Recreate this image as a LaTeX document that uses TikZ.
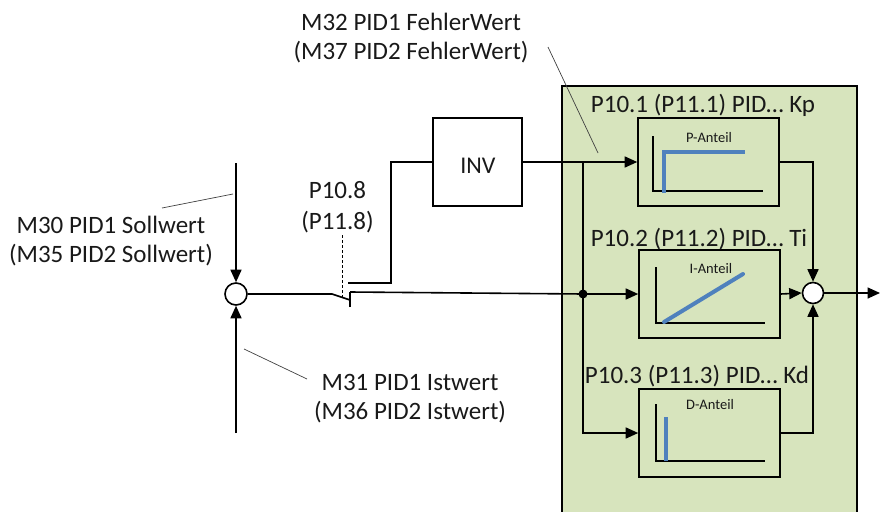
\documentclass[tikz,border=0pt]{standalone}
\usepackage{fontspec}
\setmainfont{Carlito}
\usetikzlibrary{arrows.meta}
\definecolor{pidgreen}{HTML}{D7E4BD}
\definecolor{pidblue}{HTML}{4F81BD}
\begin{document}
\begin{tikzpicture}[x=1pt,y=-1pt,
  ln/.style={line width=1.6pt},
  arr/.style={ln,-{Triangle[length=12.5pt,width=11pt]}},
  lead/.style={line width=0.7pt,draw=black!75},
  lbl/.style={font=\fontsize{25}{29}\selectfont,align=center,inner sep=0pt,text=black!90},
  blabel/.style={font=\fontsize{25}{29}\selectfont,inner sep=0pt,anchor=base,text=black!90},
  small/.style={font=\fontsize{14.5}{17}\selectfont,inner sep=0pt,anchor=base,text=black!90},
  blk/.style={draw,line width=1.6pt,minimum width=141pt,minimum height=88pt,inner sep=0pt},
  sumc/.style={circle,draw,line width=1.6pt,fill=white,inner sep=0pt},
  axis/.style={line width=1.4pt},
  curve/.style={line width=4pt,draw=pidblue}]
\useasboundingbox (0,0) rectangle (880,511);
% green PID area
\fill[pidgreen] (562,86) rectangle (857,515);
\draw[ln] (562,515) -- (562,86) -- (857,86) -- (857,515);

% blocks
\node[blk] (P) at (708.5,162) {};
\node[blk] (I) at (709.5,294) {};
\node[blk] (D) at (709.5,433) {};
\node[draw,line width=1.6pt,minimum width=89pt,minimum height=88pt,inner sep=0pt] (INV) at (477.5,162) {};
\node[blabel,font=\fontsize{24}{29}\selectfont] (INVt) at (478,173) {INV};

% block labels
\node[blabel] (Pl) at (703,112) {P10.1 (P11.1) PID… Kp};
\node[blabel] (Il) at (699,246) {P10.2 (P11.2) PID… Ti};
\node[blabel] (Dl) at (697,383) {P10.3 (P11.3) PID… Kd};

% inner plots
\node[small] (Pa) at (709,142) {P-Anteil};
\draw[axis] (653,136) -- (653,191) -- (763,191);
\draw[curve] (664,193) -- (664,152) -- (745,152);
\node[small] (Ia) at (711,273) {I-Anteil};
\draw[axis] (656,267) -- (656,323) -- (765,323);
\draw[curve,line cap=round] (664,322) -- (743,274);
\node[small] (Da) at (710,409) {D-Anteil};
\draw[axis] (656,404) -- (656,461) -- (765,461);
\draw[curve] (666,417) -- (666,461);

% summing junctions
\node[sumc,minimum size=22pt] (s1) at (236,294) {};
\node[sumc,minimum size=21pt] (s2) at (813,293) {};
\coordinate (sTop) at (236,163);
\coordinate (sBot) at (236,433);
\draw[arr] (sTop) -- (s1.north);
\draw[arr] (sBot) -- (s1.south);

% switch
\coordinate (sw1) at (332,294);
\coordinate (sw2) at (350,300);
\coordinate (swa) at (350,292);
\coordinate (swb) at (350,307);
\coordinate (up1) at (348,283);
\coordinate (up2) at (391,283);
\coordinate (dash1) at (342,235);
\coordinate (dash2) at (342,297);
\draw[ln] (s1.east) -- (sw1) -- (sw2);
\draw[ln] (swb) -- (swa);
\draw[ln] (up1) -- (up2) |- (INV.west);
\draw[line width=0.8pt,dashed,dash pattern=on 3pt off 2pt] (dash1) -- (dash2);

% main paths
\coordinate (dot) at (583,294);
\coordinate (j1) at (583,162);
\draw[ln] (swa) -- (dot);
\draw[arr] (dot) -- (I.west);
\fill (dot) circle (4.5pt);
\draw[arr] (INV.east) -- (P.west);
\draw[arr] (j1) |- (D.west);
\draw[arr] (P.east) -| (s2.north);
\draw[arr] (D.east) -| (s2.south);
\draw[arr] (I.east) -- (s2.west);
\coordinate (out) at (880,293);
\draw[arr] (s2.east) -- (out);

% labels and leaders
\node[lbl] (m32) at (411,38.5) {M32 PID1 FehlerWert\\(M37 PID2 FehlerWert)};
\coordinate (l32a) at (548,47);
\coordinate (l32b) at (598,153);
\draw[lead] (l32a) -- (l32b);
\node[lbl] (m30) at (111,241) {M30 PID1 Sollwert\\(M35 PID2 Sollwert)};
\coordinate (l30a) at (162,208);
\coordinate (l30b) at (233,194);
\draw[lead] (l30a) -- (l30b);
\node[lbl] (m31) at (410,399) {M31 PID1 Istwert\\(M36 PID2 Istwert)};
\coordinate (l31a) at (244,349);
\coordinate (l31b) at (307,379);
\draw[lead] (l31a) -- (l31b);
\node[lbl,font=\fontsize{25}{31}\selectfont] (p108) at (337.5,207.5) {P10.8\\(P11.8)};
\end{tikzpicture}
\end{document}
